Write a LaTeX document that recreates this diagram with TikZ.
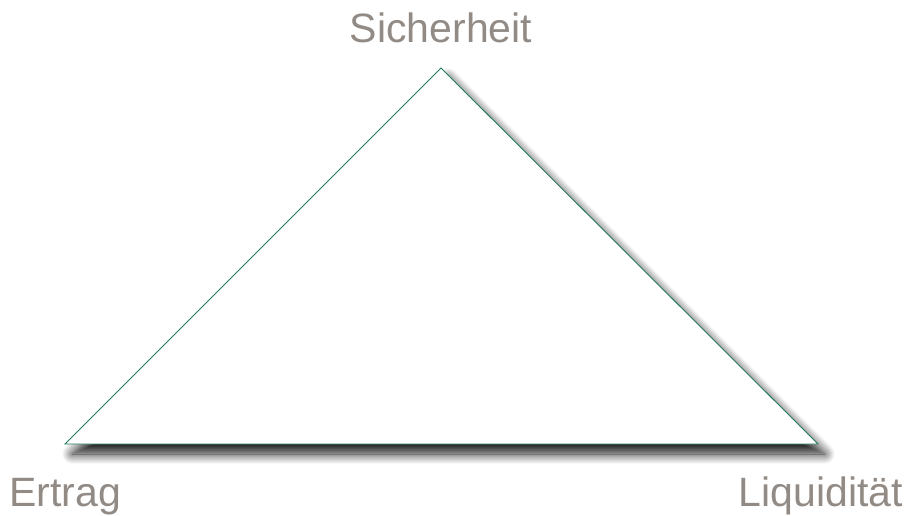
\documentclass[tikz,border=0pt]{standalone}
\usepackage{fontspec}
\setmainfont{Liberation Sans}
\usetikzlibrary{shadows.blur}
\definecolor{linegreen}{RGB}{38,122,92}
\definecolor{labelgray}{RGB}{146,138,132}
\begin{document}
\begin{tikzpicture}[x=1pt,y=-1pt,
  lbl/.style={text=labelgray,font=\fontsize{41}{44}\selectfont,inner sep=0pt,anchor=base},
  tri/.style={draw=linegreen,line width=0.9pt,fill=white,line join=miter,
    blur shadow={shadow xshift=7pt,shadow yshift=-10pt,shadow blur radius=10pt,shadow opacity=90,shadow blur steps=14}}]
\useasboundingbox (0,0) rectangle (909,515);
\coordinate (top) at (441,68);
\coordinate (left) at (65,444);
\coordinate (right) at (818,444);
\path[tri] (top) -- (right) -- (left) -- cycle;
\node[lbl] (s) at (441,42) {Sicherheit};
\node[lbl] (e) at (65,506) {Ertrag};
\node[lbl] (l) at (821,506) {Liquidität};
\end{tikzpicture}
\end{document}
